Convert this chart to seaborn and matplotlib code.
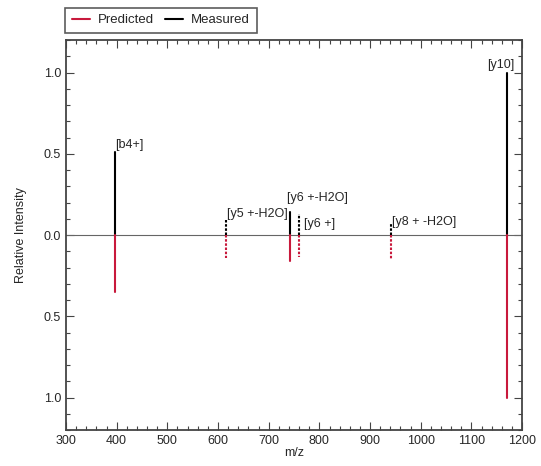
import seaborn as sns
import pandas as pd
import matplotlib.pyplot as plt
from matplotlib.lines import Line2D
from matplotlib.ticker import MultipleLocator, FuncFormatter

# peak data
labels = ["[b4+]", "[y5 +-H2O]", "[y6 +-H2O]", "[y6 +]", "[y8 + -H2O]", "[y10]"]
mz = [396, 615, 743, 760, 941, 1170]
measured = [0.51, 0.10, 0.14, 0.13, 0.075, 1.0]
predicted = [0.35, 0.14, 0.16, 0.135, 0.145, 1.0]
solid = [True, False, True, False, False, True]

RED = "#c8193c"

rows = []
for i in range(len(mz)):
    st = "solid" if solid[i] else "dotted"
    rows += [{"peak": i, "mz": mz[i], "val": 0, "kind": "Measured", "st": st},
             {"peak": i, "mz": mz[i], "val": measured[i], "kind": "Measured", "st": st}]
    rows += [{"peak": i + 100, "mz": mz[i], "val": 0, "kind": "Predicted", "st": st},
             {"peak": i + 100, "mz": mz[i], "val": -predicted[i], "kind": "Predicted", "st": st}]
d = pd.DataFrame(rows)

sns.set_theme(style="ticks")
plt.rcParams['font.family'] = ['Liberation Sans', 'DejaVu Sans']

fig, ax = plt.subplots(figsize=(5.41, 4.66), dpi=100)
fig.subplots_adjust(left=0.122, right=0.965, top=0.914, bottom=0.077)

ax.axhline(0, color="#666666", lw=0.8, zorder=1)

sns.lineplot(data=d, x="mz", y="val", units="peak", estimator=None, hue="kind",
             style="st", palette={"Measured": "black", "Predicted": RED},
             dashes={"solid": "", "dotted": (1.2, 0.8)}, lw=1.5, legend=False,
             sort=False, ax=ax, zorder=3)

# annotations
ax.text(mz[0], measured[0] + 0.01, labels[0], fontsize=9, ha="left", va="bottom")
ax.text(mz[1] + 3, measured[1] - 0.01, labels[1], fontsize=9, ha="left", va="bottom")
ax.text(mz[2] - 6, measured[2] + 0.05, labels[2], fontsize=9, ha="left", va="bottom")
ax.text(mz[3] + 10, 0.03, labels[3], fontsize=9, ha="left", va="bottom")
ax.text(mz[4] + 3, 0.045, labels[4], fontsize=9, ha="left", va="bottom")
ax.text(mz[5] + 15, measured[5] + 0.01, labels[5], fontsize=9, ha="right", va="bottom")

ax.set_xlim(300, 1200)
ax.set_ylim(-1.2, 1.2)
ax.xaxis.set_major_locator(MultipleLocator(100))
ax.xaxis.set_minor_locator(MultipleLocator(20))
ax.yaxis.set_major_locator(MultipleLocator(0.5))
ax.yaxis.set_minor_locator(MultipleLocator(0.1))
ax.yaxis.set_major_formatter(FuncFormatter(lambda v, p: "%.1f" % abs(v)))
ax.tick_params(which="both", direction="in", top=True, right=True, labelsize=9,
               color="#444444", width=0.8)
ax.tick_params(which="major", length=6)
ax.tick_params(which="minor", length=3)
for s in ax.spines.values():
    s.set_color("#444444")
    s.set_linewidth(1.3)

ax.set_xlabel("m/z", fontsize=9, labelpad=0)
ax.set_ylabel("Relative Intensity", fontsize=9, labelpad=12)

handles = [Line2D([], [], color=RED, lw=1.5), Line2D([], [], color="black", lw=1.5)]
leg = ax.legend(handles, ["Predicted", "Measured"], loc="lower left",
                bbox_to_anchor=(-0.002, 1.018), ncol=2, fontsize=9.5, frameon=True,
                fancybox=False, borderaxespad=0, handlelength=1.4, columnspacing=0.8,
                handletextpad=0.6, borderpad=0.5)
leg.get_frame().set_edgecolor("#333333")
leg.get_frame().set_linewidth(1.2)

plt.savefig("out.png", dpi=100)
plt.close()
